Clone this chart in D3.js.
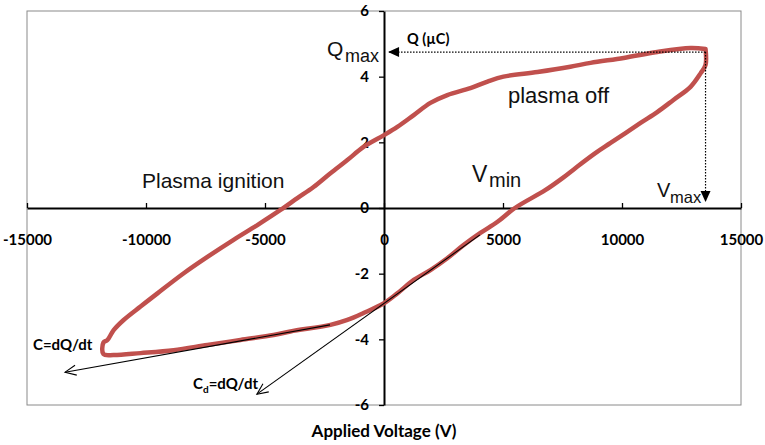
<!DOCTYPE html>
<html>
<head>
<meta charset="utf-8">
<script src="https://cdn.jsdelivr.net/npm/d3@7"></script>
<style>
  html, body { margin: 0; padding: 0; background: #fff; }
  svg { display: block; }
</style>
</head>
<body>
<svg id="chart" width="765" height="445"></svg>
<script>
// Q–V (Lissajous) loop of the discharge: applied voltage (V) vs charge (µC)
const voltage = [13510, 12880, 11480, 10070, 8680, 7830, 6450, 5020, 4350, 3630, 2660, 1950, 1250, 560, 0,
  -860, -1540, -2250, -2960, -3640, -4350, -5320, -6320, -7420, -8400, -9520, -10230, -10940, -11360, -11620,
  -11790, -11790, -11360, -10230, -8840, -7420, -6030, -4640, -3930, -2250, -1540, -860, 0, 560, 1250,
  1950, 2660, 3340, 4050, 4770, 5500, 6790, 7500, 8050, 8880, 9520, 10780, 11480, 12160, 12880, 13300,
  13510, 13510];
const charge = [4.84, 4.87, 4.75, 4.57, 4.42, 4.30, 4.14, 4.00, 3.85, 3.65, 3.44, 3.20, 2.83, 2.47, 2.22,
  1.86, 1.46, 1.06, 0.64, 0.30, -0.06, -0.52, -0.97, -1.49, -1.98, -2.60, -3.00, -3.41, -3.72, -4.02,
  -4.10, -4.45, -4.48, -4.42, -4.33, -4.17, -4.02, -3.87, -3.76, -3.56, -3.41, -3.20, -2.90, -2.60, -2.19,
  -1.89, -1.53, -1.13, -0.76, -0.42, 0.00, 0.55, 0.91, 1.22, 1.67, 1.98, 2.59, 2.92, 3.29, 3.69, 4.10,
  4.36, 4.84];

// Tick values
const xTicks = [-15000, -10000, -5000, 0, 5000, 10000, 15000];
const yTicks = [-6, -4, -2, 0, 2, 4, 6];

// Peak values marked with dotted arrows
const vMax = 13510;
const qMax = 4.75;

// Tangent lines (slopes dQ/dV) drawn as arrows: [start, end] in data units
const cTangentV = [-2270, -13400];
const cTangentQ = [-3.56, -5.00];
const cdTangentV = [4030, -5340];
const cdTangentQ = [-0.82, -5.67];

const svg = d3.select("#chart");
const plotLeft = 27, plotRight = 741, plotTop = 11, plotBottom = 405;

const x = d3.scaleLinear().domain([-15000, 15000]).range([plotLeft, plotRight]);
const y = d3.scaleLinear().domain([-6, 6]).range([plotBottom, plotTop]);

const boldFont = "Lato, 'Open Sans', sans-serif";
const plainFont = "'Liberation Sans', Arial, sans-serif";

// Plot frame
svg.append("rect")
  .attr("x", plotLeft).attr("y", plotTop)
  .attr("width", plotRight - plotLeft).attr("height", plotBottom - plotTop)
  .attr("fill", "none").attr("stroke", "#8a8a8a").attr("stroke-width", 1);

// X axis through Q = 0, ticks pointing up, labels well below
const xAxis = svg.append("g")
  .attr("transform", `translate(0,${y(0)})`)
  .call(d3.axisBottom(x).tickValues(xTicks).tickSize(-5).tickSizeOuter(0).tickFormat(d => String(d)));
xAxis.select(".domain").attr("stroke", "#000").attr("stroke-width", 2);
xAxis.selectAll(".tick line").attr("stroke", "#000").attr("stroke-width", 1.3);
xAxis.selectAll(".tick text")
  .attr("y", 32).attr("dy", "0.35em")
  .attr("fill", "#000")
  .style("font-family", boldFont).style("font-weight", "bold").style("font-size", "15px");

// Y axis through V = 0
const yAxis = svg.append("g")
  .attr("transform", `translate(${x(0)},0)`)
  .call(d3.axisLeft(y).tickValues(yTicks).tickSize(5).tickSizeOuter(0).tickPadding(10).tickFormat(d => String(d)));
yAxis.select(".domain").attr("stroke", "#000").attr("stroke-width", 2);
yAxis.selectAll(".tick line").attr("stroke", "#000").attr("stroke-width", 1.3);
yAxis.selectAll(".tick text")
  .attr("fill", "#000")
  .style("font-family", boldFont).style("font-weight", "bold").style("font-size", "15px");

// Axis title
svg.append("text")
  .attr("x", 384).attr("y", 437)
  .attr("text-anchor", "middle")
  .style("font-family", boldFont).style("font-weight", "bold").style("font-size", "17px")
  .text("Applied Voltage (V)");

// Markers
const defs = svg.append("defs");
defs.append("marker")
  .attr("id", "open-arrow")
  .attr("viewBox", "-12 -7 14 14")
  .attr("refX", 0).attr("refY", 0)
  .attr("markerWidth", 14).attr("markerHeight", 14)
  .attr("markerUnits", "userSpaceOnUse")
  .attr("orient", "auto")
  .append("path")
  .attr("d", "M-11,-5 L0,0 L-11,5")
  .attr("fill", "none").attr("stroke", "#000").attr("stroke-width", 1.1);
defs.append("marker")
  .attr("id", "solid-arrow")
  .attr("viewBox", "-12 -6 13 12")
  .attr("refX", 0).attr("refY", 0)
  .attr("markerWidth", 13).attr("markerHeight", 12)
  .attr("markerUnits", "userSpaceOnUse")
  .attr("orient", "auto")
  .append("path")
  .attr("d", "M-11,-5 L0,0 L-11,5 Z")
  .attr("fill", "#000");

// Charge–voltage loop
const loop = d3.range(voltage.length).map(i => [voltage[i], charge[i]]);
svg.append("path")
  .datum(loop)
  .attr("fill", "none")
  .attr("stroke", "#c0504d")
  .attr("stroke-width", 4.5)
  .attr("stroke-linejoin", "round")
  .attr("stroke-linecap", "round")
  .attr("d", d3.line().x(d => x(d[0])).y(d => y(d[1])).curve(d3.curveCatmullRom.alpha(0.5)));

// Tangent lines
svg.append("line")
  .attr("x1", x(cTangentV[0])).attr("y1", y(cTangentQ[0]))
  .attr("x2", x(cTangentV[1])).attr("y2", y(cTangentQ[1]))
  .attr("stroke", "#000").attr("stroke-width", 1.1)
  .attr("marker-end", "url(#open-arrow)");
svg.append("line")
  .attr("x1", x(cdTangentV[0])).attr("y1", y(cdTangentQ[0]))
  .attr("x2", x(cdTangentV[1])).attr("y2", y(cdTangentQ[1]))
  .attr("stroke", "#000").attr("stroke-width", 1.1)
  .attr("marker-end", "url(#open-arrow)");

// Dotted guides to Qmax and Vmax
svg.append("line")
  .attr("x1", x(vMax)).attr("y1", y(qMax))
  .attr("x2", x(170)).attr("y2", y(qMax))
  .attr("stroke", "#000").attr("stroke-width", 1.2).attr("stroke-dasharray", "1.5,1.5")
  .attr("marker-end", "url(#solid-arrow)");
svg.append("line")
  .attr("x1", x(vMax)).attr("y1", y(qMax))
  .attr("x2", x(vMax)).attr("y2", y(0.18))
  .attr("stroke", "#000").attr("stroke-width", 1.2).attr("stroke-dasharray", "1.5,1.5")
  .attr("marker-end", "url(#solid-arrow)");

// Region labels
function plain(txt, px, py, size) {
  return svg.append("text").attr("x", px).attr("y", py)
    .style("font-family", plainFont).style("font-size", size + "px").attr("fill", "#111").text(txt);
}
plain("Plasma ignition", 142, 188, 21);
plain("plasma off", 508, 103, 22);

// Qmax, Vmin, Vmax with subscripts
plain("Q", 327, 56, 21);
plain("max", 345, 62, 18);
plain("V", 472, 182, 23);
plain("min", 489, 187, 20);
plain("V", 657, 197, 20);
plain("max", 670, 203, 16.5);

// Bold annotation labels
function bold(px, py, size) {
  return svg.append("text").attr("x", px).attr("y", py)
    .style("font-family", boldFont).style("font-weight", "bold").style("font-size", size + "px").attr("fill", "#000");
}
bold(407, 44, 14.5).text("Q (µC)");
bold(33, 350, 15).text("C=dQ/dt");
const cd = bold(193, 389, 15);
cd.append("tspan").text("C");
cd.append("tspan").attr("dy", 4).style("font-size", "10px").text("d");
cd.append("tspan").attr("dy", -4).text("=dQ/dt");
</script>
</body>
</html>
